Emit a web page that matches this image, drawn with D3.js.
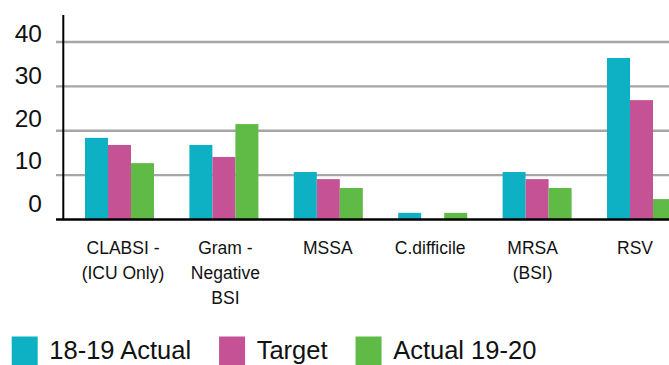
<!DOCTYPE html>
<html>
<head>
<meta charset="utf-8">
<script src="https://cdn.jsdelivr.net/npm/d3@7"></script>
<style>
  html, body { margin: 0; padding: 0; background: #fff; }
  svg { display: block; }
  text { font-family: "Liberation Sans", Arial, Helvetica, sans-serif; fill: #111; }
</style>
</head>
<body>
<svg id="chart" width="669" height="365"></svg>
<script>
// Infection categories (multi-line labels split on "\n")
const categories = [
  "CLABSI -\n(ICU Only)",
  "Gram -\nNegative\nBSI",
  "MSSA",
  "C.difficile",
  "MRSA\n(BSI)",
  "RSV"
];
const seriesNames = ["18-19 Actual", "Target", "Actual 19-20"];
const actual1819 = [18.4, 16.8, 10.7, 1.5, 10.7, 36.4];
const target     = [16.8, 14.1, 9.1, 0, 9.1, 26.9];
const actual1920 = [12.7, 21.5, 7.1, 1.5, 7.1, 4.6];
const yTicks = [0, 10, 20, 30, 40];
const colors = ["#0eb0c4", "#c45294", "#5fba46"];

const series = [actual1819, target, actual1920];
const data = categories.map((c, i) => ({
  cat: c,
  values: series.map((s, k) => ({ key: seriesNames[k], value: s[i] }))
}));

const svg = d3.select("#chart");

const x0 = d3.scaleBand()
  .domain(categories)
  .range([67.3, 693.7])
  .paddingInner(0.339)
  .paddingOuter(0.1695);
const x1 = d3.scaleBand()
  .domain(seriesNames)
  .range([0, x0.bandwidth()]);
const y = d3.scaleLinear().domain([0, 40]).range([219.5, 42]);
// tick numbers sit a little above their gridlines
const yLabel = d3.scaleLinear().domain([0, 40]).range([211.7, 41.7]);
const xLabel = d3.scalePoint().domain(categories).range([123, 635]);
const color = d3.scaleOrdinal().domain(seriesNames).range(colors);

// gridlines
svg.append("g")
  .selectAll("line")
  .data(yTicks.filter(t => t > 0))
  .join("line")
  .attr("x1", 56).attr("x2", 669)
  .attr("y1", d => y(d)).attr("y2", d => y(d))
  .attr("stroke", "#a7a5a5")
  .attr("stroke-width", 2.4);

// y tick labels
svg.append("g")
  .selectAll("text")
  .data(yTicks)
  .join("text")
  .attr("x", 42)
  .attr("y", d => yLabel(d))
  .attr("text-anchor", "end")
  .style("font-size", "24.5px")
  .text(d => d);

// bars
svg.append("g")
  .selectAll("g")
  .data(data)
  .join("g")
  .attr("transform", d => `translate(${x0(d.cat)},0)`)
  .selectAll("rect")
  .data(d => d.values)
  .join("rect")
  .attr("x", d => x1(d.key))
  .attr("width", x1.bandwidth())
  .attr("y", d => y(d.value))
  .attr("height", d => y(0) - y(d.value))
  .attr("fill", d => color(d.key));

// axes lines
svg.append("line")
  .attr("x1", 63.3).attr("x2", 63.3)
  .attr("y1", 15).attr("y2", y(0))
  .attr("stroke", "#000").attr("stroke-width", 2);
svg.append("line")
  .attr("x1", 56).attr("x2", 669)
  .attr("y1", y(0)).attr("y2", y(0))
  .attr("stroke", "#000").attr("stroke-width", 2.6);

// category labels
const catG = svg.append("g");
categories.forEach(c => {
  const t = catG.append("text")
    .attr("x", xLabel(c))
    .attr("y", 254.3)
    .attr("text-anchor", "middle")
    .style("font-size", "17.5px");
  c.split("\n").forEach((line, i) => {
    t.append("tspan")
      .attr("x", xLabel(c))
      .attr("dy", i === 0 ? 0 : 25)
      .text(line);
  });
});

// legend
const legend = svg.append("g").attr("transform", "translate(11.7,336.5)");
let lx = 0;
seriesNames.forEach(name => {
  const g = legend.append("g").attr("transform", `translate(${lx},0)`);
  g.append("rect")
    .attr("width", 26).attr("height", 28.5)
    .attr("fill", color(name));
  const t = g.append("text")
    .attr("x", 37.6).attr("y", 22.9)
    .style("font-size", "25.5px")
    .text(name);
  lx += 37.6 + t.node().getComputedTextLength() + 28;
});
</script>
</body>
</html>
